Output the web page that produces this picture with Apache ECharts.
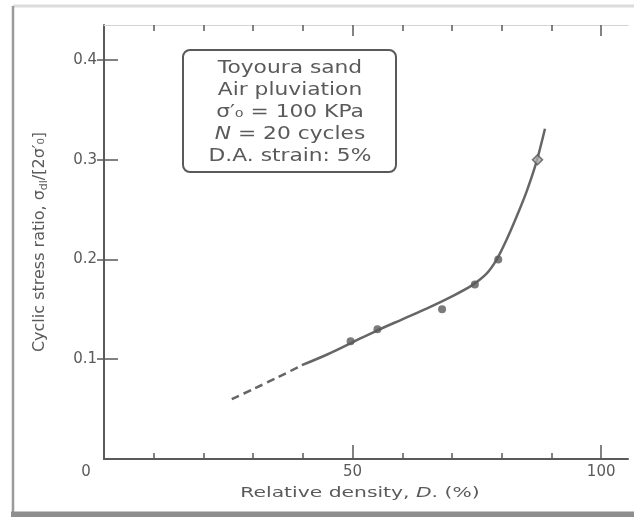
<!DOCTYPE html>
<html>
<head>
<meta charset="utf-8">
<script src="https://cdn.jsdelivr.net/npm/echarts@6/dist/echarts.min.js"></script>
<style>
  html, body { margin: 0; padding: 0; background: #fff; }
  #chart { width: 634px; height: 517px; }
</style>
</head>
<body>
<div id="chart"></div>
<script>
// Relative density D (%) vs cyclic stress ratio for Toyoura sand
const curveD   = [39.8, 45, 50, 55, 60, 65, 70, 74, 77, 79, 81, 83, 85, 87, 88.7];
const curveCSR = [0.094, 0.105, 0.117, 0.129, 0.140, 0.151, 0.163, 0.174, 0.186, 0.200, 0.220, 0.243, 0.268, 0.298, 0.331];
// extrapolated (dashed) part of the curve at low density
const dashD    = [25.7, 30, 35, 39.8];
const dashCSR  = [0.060, 0.070, 0.082, 0.094];
// test results
const pointD   = [49.6, 55.0, 68.0, 74.6, 79.3, 87.2];
const pointCSR = [0.118, 0.130, 0.150, 0.175, 0.200, 0.300];

const xTicks      = [10, 20, 30, 40, 50, 60, 70, 80, 90, 100];
const xMajorTicks = [50, 100];
const xLabels     = [0, 50, 100];
const yTicks      = [0.1, 0.2, 0.3, 0.4];
const noteLines   = ['Toyoura sand', 'Air pluviation', 'σ′₀ = 100 KPa', '{i|N} = 20 cycles', 'D.A. strain: 5%'];

const ink = '#5a5a5a';
const font = '"DejaVu Sans", sans-serif';

const zip = (a, b) => a.map((v, i) => [v, b[i]]);

const chart = echarts.init(document.getElementById('chart'), null, { renderer: 'canvas' });

const baseX = { type: 'value', min: 0, max: 105.4, gridIndex: 0, splitLine: { show: false } };
const baseY = { type: 'value', min: 0, max: 0.435, splitLine: { show: false } };

// legend-like note box lines
const noteTexts = noteLines.map((t, i) => ({
  type: 'text',
  x: 290, y: 69 + i * 22,
  scaleX: 1.28,
  z: 20,
  style: {
    text: t, x: 0, y: 0, align: 'center', verticalAlign: 'middle',
    fontFamily: font, fontSize: 17, fill: ink,
    rich: { i: { fontFamily: font, fontSize: 17, fontStyle: 'italic', fill: ink } }
  }
}));

chart.setOption({
  animation: false,
  backgroundColor: '#fff',
  grid: { left: 104, right: 6, top: 25, bottom: 58 },
  xAxis: [
    Object.assign({}, baseX, {
      position: 'bottom',
      axisLine: { lineStyle: { color: ink, width: 2 } },
      axisTick: { inside: true, length: 6, customValues: xTicks, lineStyle: { color: ink, width: 1.5 } },
      axisLabel: {
        customValues: xLabels, margin: 6, fontFamily: font, fontSize: 15, color: ink,
        formatter: v => v === 0 ? '{o|0}' : String(v),
        rich: { o: { fontFamily: font, fontSize: 15, color: ink, padding: [0, 36, 0, 0] } }
      }
    }),
    Object.assign({}, baseX, {
      position: 'bottom',
      axisLine: { show: false },
      axisTick: { inside: true, length: 14, customValues: xMajorTicks, lineStyle: { color: ink, width: 1.5 } },
      axisLabel: { show: false }
    }),
    Object.assign({}, baseX, {
      position: 'top',
      axisLine: { lineStyle: { color: '#d4d4d4', width: 1 } },
      axisTick: { inside: true, length: 6, customValues: xTicks, lineStyle: { color: ink, width: 1.5 } },
      axisLabel: { show: false }
    }),
    Object.assign({}, baseX, {
      position: 'top',
      axisLine: { show: false },
      axisTick: { inside: true, length: 11, customValues: xMajorTicks, lineStyle: { color: ink, width: 1.5 } },
      axisLabel: { show: false }
    })
  ],
  yAxis: [
    Object.assign({}, baseY, {
      position: 'left',
      axisLine: { lineStyle: { color: ink, width: 2 } },
      axisTick: { inside: true, length: 14, customValues: yTicks, lineStyle: { color: ink, width: 1.5 } },
      axisLabel: {
        customValues: yTicks, margin: 7, fontFamily: font, fontSize: 15, color: ink,
        formatter: v => v.toFixed(1)
      },
      name: 'Cyclic stress ratio, σ{s|dl}/[2σ′₀]',
      nameLocation: 'middle',
      nameRotate: 90,
      nameGap: 54,
      nameTextStyle: {
        fontFamily: font, fontSize: 16, color: ink, lineHeight: 20,
        rich: { s: { fontFamily: font, fontSize: 11, color: ink, verticalAlign: 'bottom', lineHeight: 15 } }
      }
    }),
    Object.assign({}, baseY, {
      position: 'right',
      axisLine: { show: false },
      axisTick: { inside: true, length: 7, customValues: yTicks, lineStyle: { color: ink, width: 1.5 } },
      axisLabel: { show: false }
    })
  ],
  series: [
    {
      type: 'line', name: 'extrapolated', data: zip(dashD, dashCSR),
      smooth: 0.3, symbol: 'none',
      lineStyle: { color: '#666', width: 2.5, type: [8, 5] }
    },
    {
      type: 'line', name: 'fit', data: zip(curveD, curveCSR),
      smooth: 0.3, symbol: 'none',
      lineStyle: { color: '#666', width: 2.5 }
    },
    {
      type: 'scatter', name: 'tests',
      data: pointD.map((d, i) => i === pointD.length - 1
        ? { value: [d, pointCSR[i]], symbol: 'diamond', symbolSize: 10,
            itemStyle: { color: '#aaa', borderColor: '#555', borderWidth: 1.5 } }
        : [d, pointCSR[i]]),
      symbol: 'circle', symbolSize: 8,
      itemStyle: { color: '#5a5a5a' },
      z: 5
    }
  ],
  graphic: [
    // scanned-page frame
    { type: 'line', shape: { x1: 13, y1: 6, x2: 634, y2: 6 }, style: { stroke: '#dcdcdc', lineWidth: 3 } },
    { type: 'line', shape: { x1: 13, y1: 6, x2: 13, y2: 512 }, style: { stroke: '#9a9a9a', lineWidth: 2.5 } },
    { type: 'rect', shape: { x: 11, y: 511.5, width: 630, height: 6 }, style: { fill: '#8e8e8e' } },
    // annotation box
    {
      type: 'rect', shape: { x: 183, y: 50, width: 213, height: 122, r: 7 },
      style: { fill: '#fff', stroke: ink, lineWidth: 2 }, z: 10
    },
    ...noteTexts,
    // x axis title
    {
      type: 'text', x: 360, y: 493, scaleX: 1.45, z: 20,
      style: {
        text: 'Relative density, {i|D}. (%)', x: 0, y: 0, align: 'center', verticalAlign: 'middle',
        fontFamily: font, fontSize: 14, fill: ink,
        rich: { i: { fontFamily: font, fontSize: 14, fontStyle: 'italic', fill: ink } }
      }
    }
  ]
});
</script>
</body>
</html>
